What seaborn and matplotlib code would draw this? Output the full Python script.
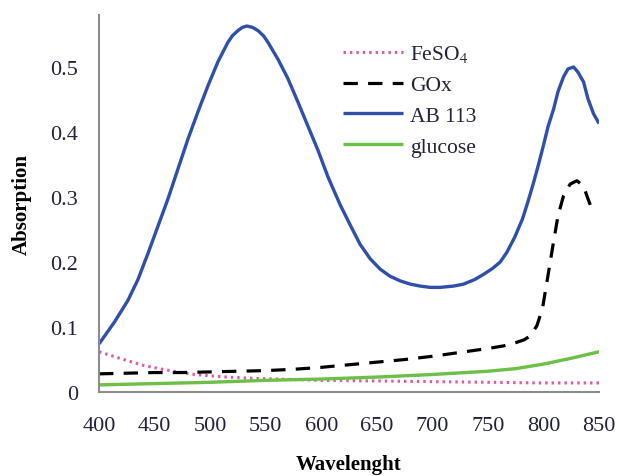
import matplotlib
matplotlib.use("Agg")
import matplotlib.pyplot as plt
import seaborn as sns
import pandas as pd

# UV-Vis absorption spectra
ab113_wl = [400, 414, 426, 435, 444, 453, 462, 471, 480, 489, 498, 507, 516, 520,
            525, 529, 533, 538, 543, 548, 552, 561, 570, 579, 588, 597, 606, 617,
            626, 635, 644, 653, 662, 671, 680, 689, 698, 707, 719, 728, 738, 746,
            754, 761, 767, 774, 781, 786, 791, 795, 800, 804, 809, 813, 818, 822,
            827, 831, 836, 840, 845, 850]
ab113_abs = [0.074, 0.108, 0.141, 0.173, 0.213, 0.255, 0.297, 0.343, 0.389, 0.431,
             0.471, 0.508, 0.538, 0.548, 0.556, 0.561, 0.563, 0.561, 0.556, 0.548,
             0.538, 0.512, 0.482, 0.446, 0.409, 0.372, 0.331, 0.288, 0.257, 0.227,
             0.205, 0.189, 0.178, 0.171, 0.166, 0.163, 0.161, 0.161, 0.163, 0.166,
             0.173, 0.181, 0.190, 0.200, 0.215, 0.238, 0.266, 0.293, 0.322, 0.347,
             0.380, 0.408, 0.435, 0.462, 0.485, 0.497, 0.500, 0.492, 0.477, 0.451,
             0.428, 0.413]

gox_wl = [400, 425, 450, 475, 500, 525, 550, 575, 600, 625, 650, 675, 700, 725,
          750, 764, 775, 782, 788, 794, 799, 803, 806, 809, 813, 818, 824, 830,
          836, 840, 845]
gox_abs = [0.028, 0.029, 0.030, 0.030, 0.031, 0.032, 0.033, 0.035, 0.038, 0.042,
           0.046, 0.050, 0.055, 0.061, 0.067, 0.071, 0.076, 0.080, 0.086, 0.102,
           0.128, 0.169, 0.200, 0.231, 0.271, 0.302, 0.320, 0.325, 0.317, 0.297,
           0.275]

feso4_wl = [400, 413, 426, 440, 457, 471, 486, 500, 516, 540, 561, 600, 650, 700,
            750, 800, 850]
feso4_abs = [0.062, 0.055, 0.048, 0.041, 0.035, 0.031, 0.027, 0.025, 0.023, 0.021,
             0.020, 0.018, 0.017, 0.016, 0.015, 0.014, 0.014]

glucose_wl = [400, 450, 500, 550, 600, 650, 700, 750, 775, 800, 825, 850]
glucose_abs = [0.011, 0.013, 0.015, 0.018, 0.020, 0.023, 0.027, 0.032, 0.036,
               0.043, 0.052, 0.062]

x_ticks = [400, 450, 500, 550, 600, 650, 700, 750, 800, 850]
y_ticks = [0, 0.1, 0.2, 0.3, 0.4, 0.5]
y_tick_labels = ["0", "0.1", "0.2", "0.3", "0.4", "0.5"]

sns.set_theme(style="white")
plt.rcParams["font.family"] = ["Liberation Serif", "DejaVu Serif"]
plt.rcParams["mathtext.fontset"] = "stix"

fig = plt.figure(figsize=(6.17, 4.77), dpi=100)
ax = fig.add_axes([0.1605, 0.176, 0.8105, 0.7905])

series = [
    (r"FeSO$_4$", feso4_wl, feso4_abs, dict(color="#e05aa5", lw=2.2, linestyle=(0, (0.8, 1.3)))),
    ("GOx", gox_wl, gox_abs, dict(color="black", lw=2.3, linestyle=(0, (4.5, 3.2)))),
    ("AB 113", ab113_wl, ab113_abs, dict(color="#2f4fa8", lw=2.4, linestyle="-")),
    ("glucose", glucose_wl, glucose_abs, dict(color="#6cbf47", lw=2.4, linestyle="-")),
]
for label, wl, ab, style in series:
    df = pd.DataFrame({"Wavelength": wl, "Absorption": ab})
    sns.lineplot(data=df, x="Wavelength", y="Absorption", ax=ax, label=label,
                 solid_capstyle="butt", dash_capstyle="butt", **style)

ax.set_xlim(400, 850)
ax.set_ylim(0, 0.58)
ax.set_xticks(x_ticks)
ax.set_yticks(y_ticks)
ax.set_yticklabels(y_tick_labels)

for side in ["top", "right"]:
    ax.spines[side].set_visible(False)
for side in ["left", "bottom"]:
    ax.spines[side].set_color("#8c8c8c")
    ax.spines[side].set_linewidth(1.5)

ax.tick_params(axis="both", which="major", direction="out", length=7, width=1.3,
               color="#8c8c8c", labelsize=16, labelcolor="#22223a", pad=8)
ax.tick_params(axis="x", pad=10)

ax.set_xlabel("Wavelenght", fontsize=15, fontweight="bold", labelpad=14, color="black")
ax.set_ylabel("Absorption", fontsize=15, fontweight="bold", labelpad=13, color="black")

leg = ax.legend(loc="upper left", bbox_to_anchor=(0.488, 0.925), frameon=False,
                fontsize=15.5, handlelength=2.8, handletextpad=0.33,
                labelspacing=0.5, borderaxespad=0, borderpad=0)
for t in leg.get_texts():
    t.set_color("#22223a")

ax.grid(False)
fig.savefig("out.png", dpi=100)
